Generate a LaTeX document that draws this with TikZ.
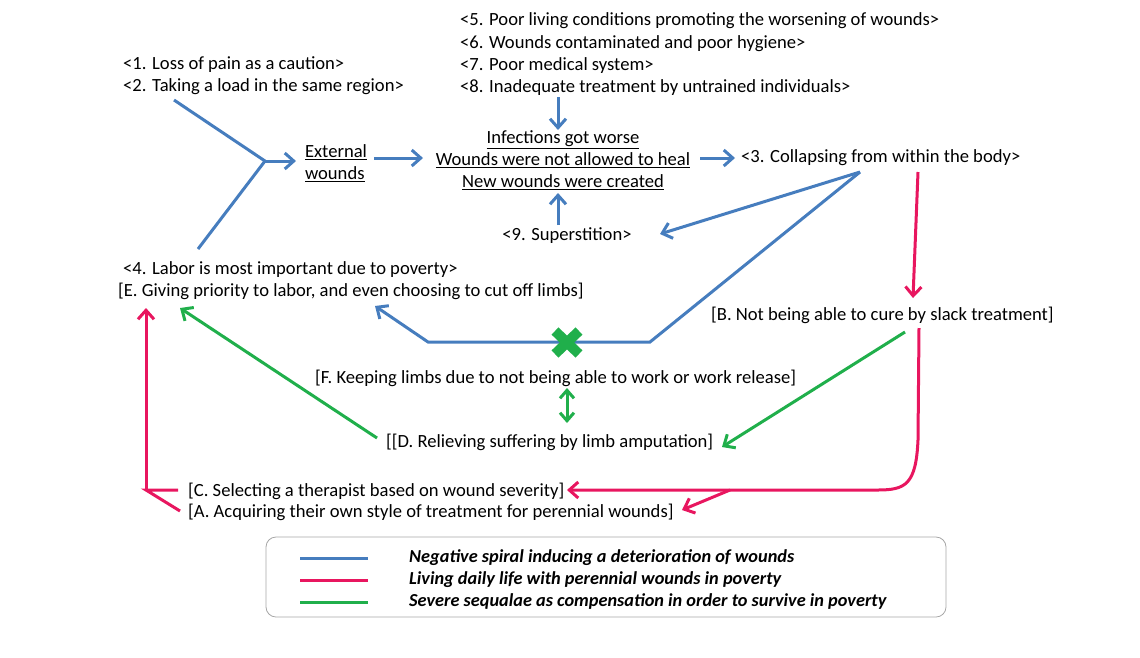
\documentclass[tikz,border=0pt]{standalone}
\usepackage{fontspec}
\setmainfont{Carlito}
\usetikzlibrary{arrows.meta}
\definecolor{cblue}{RGB}{70,125,190}
\definecolor{cpink}{RGB}{232,22,95}
\definecolor{cgreen}{RGB}{32,175,75}
\tikzset{
  txt/.style={font=\fontsize{18.6}{22}\selectfont, inner sep=0pt, anchor=west},
  ctxt/.style={font=\fontsize{18.6}{22}\selectfont, inner sep=0pt, align=center},
  ltxt/.style={font=\fontsize{18.3}{22}\selectfont\bfseries\itshape, inner sep=0pt, anchor=west},
  bl/.style={draw=cblue, line width=3pt},
  pk/.style={draw=cpink, line width=3pt},
  gr/.style={draw=cgreen, line width=3pt},
  tip/.style={-{Straight Barb[length=9pt,width=16pt]}},
  dtip/.style={{Straight Barb[length=8pt,width=14pt]}-{Straight Barb[length=8pt,width=14pt]}}
}
\begin{document}
\begin{tikzpicture}[x=1pt,y=-1pt, line join=miter]
\useasboundingbox (0,0) rectangle (1140,657);
% texts
\node[txt] (n1) at (123,65) {<1. Loss of pain as a caution>};
\node[txt] (n2) at (123,87) {<2. Taking a load in the same region>};
\node[txt] (n5) at (460,21) {<5. Poor living conditions promoting the worsening of wounds>};
\node[txt] (n6) at (460,44) {<6. Wounds contaminated and poor hygiene>};
\node[txt] (n7) at (460,66) {<7. Poor medical system>};
\node[txt] (n8) at (460,88) {<8. Inadequate treatment by untrained individuals>};
\node[ctxt] (inf) at (563,160) {\underline{Infections got worse}\\\underline{Wounds were not allowed to heal}\\\underline{New wounds were created}};
\node[ctxt, align=left] (ext) at (336,163) {\underline{External}\\\underline{wounds}};
\node[txt] (n3) at (741,158) {<3. Collapsing from within the body>};
\node[ctxt] (n9) at (567,236) {<9. Superstition>};
\node[txt] (n4) at (123,270) {<4. Labor is most important due to poverty>};
\node[txt] (nE) at (118,291) {[E. Giving priority to labor, and even choosing to cut off limbs]};
\node[txt] (nB) at (711,315) {[B. Not being able to cure by slack treatment]};
\node[txt] (nF) at (315,378) {[F. Keeping limbs due to not being able to work or work release]};
\node[txt] (nD) at (386,442) {[[D. Relieving suffering by limb amputation]};
\node[txt] (nC) at (188,491) {[C. Selecting a therapist based on wound severity]};
\node[txt] (nA) at (188,512) {[A. Acquiring their own style of treatment for perennial wounds]};
% coordinates
\coordinate (yj) at (265,161);
\coordinate (s2) at (174,100);
\coordinate (s4) at (198,249);
\coordinate (c3) at (860,172);
\coordinate (p3) at (918,172);
% blue connectors
\draw[bl] (s2) -- (yj) -- (s4);
\draw[bl,tip] (yj) -- (296,161);
\draw[bl,tip] (374,158) -- (423,158);
\draw[bl,tip] (558,97) -- (558,130);
\draw[bl,tip] (558,225) -- (558,193);
\draw[bl,tip] (700,158) -- (735,158);
\draw[bl,tip] (c3) -- (660,234);
\draw[bl,tip] (c3) -- (650,342) -- (428,342) -- (375,306);
% green X
\draw[draw=cgreen, line width=10pt] (555,331) -- (579,354) (579,331) -- (555,354);
% pink connectors
\draw[pk,tip] (p3) -- (913,298);
\draw[pk,tip] (919,328) -- (918,440) .. controls (916,484) and (906,490) .. (878,490) -- (567,490);
\draw[pk,tip] (730,490) -- (682,510);
\draw[pk] (180,511) -- (146,490) -- (178,490);
\draw[pk,tip] (146,490) -- (146,308);
% green connectors
\draw[gr,tip] (905,332) -- (722,447);
\draw[gr,dtip] (567,388) -- (567,423);
\draw[gr,tip] (377,438) -- (180,308);
% legend
\node[draw=gray!70, line width=0.8pt, rounded corners=10pt, minimum width=680pt, minimum height=80pt, inner sep=0pt] (leg) at (606,577) {};
\draw[draw=cblue, line width=3pt] (300,558) -- (368,558);
\draw[draw=cpink, line width=3pt] (300,580) -- (368,580);
\draw[draw=cgreen, line width=3pt] (300,602) -- (368,602);
\node[ltxt] (l1) at (409,558) {Negative spiral inducing a deterioration of wounds};
\node[ltxt] (l2) at (409,580) {Living daily life with perennial wounds in poverty};
\node[ltxt] (l3) at (409,602) {Severe sequalae as compensation in order to survive in poverty};
\end{tikzpicture}
\end{document}
